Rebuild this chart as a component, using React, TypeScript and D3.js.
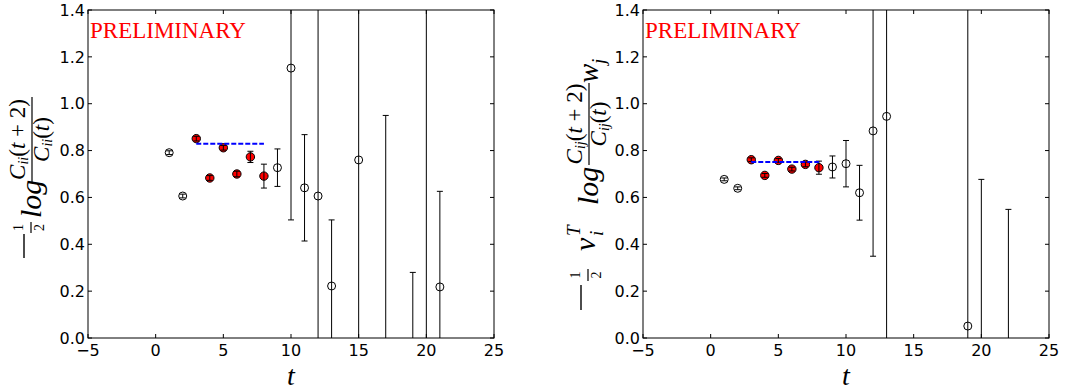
import React from 'react';
import * as d3 from 'd3';

// axis ticks
const xTicks = [-5, 0, 5, 10, 15, 20, 25];
const yTicks = [0, 0.2, 0.4, 0.6, 0.8, 1.0, 1.2, 1.4];

// left panel: C_ii effective mass
const leftOpenT = [1, 2, 9, 10, 11, 12, 13, 15, 17, 19, 20, 21];
const leftOpenV = [0.791, 0.606, 0.727, 1.152, 0.641, 0.606, 0.222, 0.76, -0.35, -0.4, 2.0, 0.218];
const leftOpenE = [0.008, 0.008, 0.08, 0.648, 0.227, 0.95, 0.282, 0.9, 1.3, 0.68, 3.0, 0.408];
const leftFitT = [3, 4, 5, 6, 7, 8];
const leftFitV = [0.851, 0.683, 0.812, 0.7, 0.773, 0.691];
const leftFitE = [0.01, 0.01, 0.01, 0.012, 0.024, 0.051];
const leftPlateau = 0.829;

// right panel: projected correlator
const rightOpenT = [1, 2, 9, 10, 11, 12, 13, 19, 20, 22];
const rightOpenV = [0.677, 0.639, 0.73, 0.744, 0.62, 0.884, 0.946, 0.051, -0.3, -0.3];
const rightOpenE = [0.006, 0.006, 0.047, 0.099, 0.117, 0.535, 1.0, 1.5, 0.977, 0.849];
const rightFitT = [3, 4, 5, 6, 7, 8];
const rightFitV = [0.761, 0.694, 0.758, 0.721, 0.741, 0.727];
const rightFitE = [0.008, 0.008, 0.008, 0.008, 0.01, 0.028];
const rightPlateau = 0.751;

const W = 406;
const TOP = 10;
const BOTTOM = 338;
const SANS = 'DejaVu Sans';
const SERIF = 'Liberation Serif';

function ErrBars({ x, y, t, v, e }) {
  return (
    <g stroke="#000" strokeWidth={1}>
      {t.map((ti, i) => {
        const px = x(ti);
        const lo = y(v[i] - e[i]);
        const hi = y(v[i] + e[i]);
        return (
          <g key={i}>
            <line x1={px} x2={px} y1={lo} y2={hi} />
            <line x1={px - 3} x2={px + 3} y1={lo} y2={lo} />
            <line x1={px - 3} x2={px + 3} y1={hi} y2={hi} />
          </g>
        );
      })}
    </g>
  );
}

function Panel(props) {
  const { id, left, openT, openV, openE, fitT, fitV, fitE, plateau, children } = props;
  const x = d3.scaleLinear().domain([-5, 25]).range([left, left + W]);
  const y = d3.scaleLinear().domain([0, 1.4]).range([BOTTOM, TOP]);
  const fmt = d3.format('.1f');
  const fmtX = d3.format('d');

  return (
    <g>
      <defs>
        <clipPath id={id}>
          <rect x={left} y={TOP} width={W} height={BOTTOM - TOP} />
        </clipPath>
      </defs>
      <g clipPath={`url(#${id})`}>
        {openT.map((ti, i) => (
          <circle key={i} cx={x(ti)} cy={y(openV[i])} r={4} fill="none" stroke="#000" strokeWidth={1} />
        ))}
        <ErrBars x={x} y={y} t={openT} v={openV} e={openE} />
        {fitT.map((ti, i) => (
          <circle key={i} cx={x(ti)} cy={y(fitV[i])} r={4.2} fill="#ff0000" stroke="#000" strokeWidth={1} />
        ))}
        <ErrBars x={x} y={y} t={fitT} v={fitV} e={fitE} />
        <line x1={x(fitT[0])} x2={x(fitT[fitT.length - 1])} y1={y(plateau)} y2={y(plateau)}
          stroke="#0000ff" strokeWidth={2} strokeDasharray="5,2" />
      </g>

      <rect x={left} y={TOP} width={W} height={BOTTOM - TOP} fill="none" stroke="#000" strokeWidth={1} />
      <g stroke="#000" strokeWidth={1}>
        {xTicks.map((d) => (
          <g key={d}>
            <line x1={x(d)} x2={x(d)} y1={BOTTOM} y2={BOTTOM - 4} />
            <line x1={x(d)} x2={x(d)} y1={TOP} y2={TOP + 4} />
          </g>
        ))}
        {yTicks.map((d) => (
          <g key={d}>
            <line x1={left} x2={left + 4} y1={y(d)} y2={y(d)} />
            <line x1={left + W} x2={left + W - 4} y1={y(d)} y2={y(d)} />
          </g>
        ))}
      </g>
      <g fontFamily={SANS} fontSize={16} fill="#000">
        {xTicks.map((d) => (
          <text key={d} x={x(d)} y={356} textAnchor="middle">{fmtX(d)}</text>
        ))}
        {yTicks.map((d) => (
          <text key={d} x={left - 3} y={y(d)} dy="0.36em" textAnchor="end">{fmt(d)}</text>
        ))}
      </g>
      <text x={x(10)} y={385} fontFamily={SERIF} fontStyle="italic" fontSize={28} textAnchor="middle">t</text>
      <text x={left + 2} y={38} fontFamily={SERIF} fontSize={23} fill="#ff0000">PRELIMINARY</text>
      {children}
    </g>
  );
}

// rotated label: local x = -yOrig, local y = xOrig
function Frac({ cx, bar, num, den, len, sub }) {
  return (
    <g>
      <line x1={cx - len / 2} x2={cx + len / 2} y1={bar} y2={bar} stroke="#000" strokeWidth={1.2} />
      <text x={cx} y={num} fontSize={23} textAnchor="middle">
        <tspan fontStyle="italic">C</tspan>
        <tspan fontStyle="italic" fontSize={14} dy={3}>{sub}</tspan>
        <tspan dy={-3}>(</tspan>
        <tspan fontStyle="italic">t</tspan>
        <tspan> + 2)</tspan>
      </text>
      <text x={cx} y={den} fontSize={23} textAnchor="middle">
        <tspan fontStyle="italic">C</tspan>
        <tspan fontStyle="italic" fontSize={14} dy={3}>{sub}</tspan>
        <tspan dy={-3}>(</tspan>
        <tspan fontStyle="italic">t</tspan>
        <tspan>)</tspan>
      </text>
    </g>
  );
}

function LeftLabel() {
  return (
    <g transform="rotate(-90)" fontFamily={SERIF} fill="#000">
      <line x1={-258} x2={-234} y1={24} y2={24} stroke="#000" strokeWidth={1.4} />
      <text x={-227.5} y={23} fontSize={14} textAnchor="middle">1</text>
      <line x1={-233} x2={-222} y1={31} y2={31} stroke="#000" strokeWidth={1.2} />
      <text x={-227.5} y={44} fontSize={14} textAnchor="middle">2</text>
      <text x={-218} y={41} fontSize={30} fontStyle="italic">log</text>
      <Frac cx={-139.5} bar={32} num={25} den={49} len={85} sub="ii" />
    </g>
  );
}

function RightLabel() {
  return (
    <g transform="rotate(-90)" fontFamily={SERIF} fill="#000">
      <line x1={-310} x2={-285} y1={581} y2={581} stroke="#000" strokeWidth={1.4} />
      <text x={-275} y={580} fontSize={14} textAnchor="middle">1</text>
      <line x1={-281} x2={-269} y1={588} y2={588} stroke="#000" strokeWidth={1.2} />
      <text x={-275} y={601} fontSize={14} textAnchor="middle">2</text>
      <text x={-251} y={595} fontSize={30} fontStyle="italic">v</text>
      <text x={-236} y={580} fontSize={19} fontStyle="italic">T</text>
      <text x={-236} y={603} fontSize={19} fontStyle="italic">i</text>
      <text x={-205} y={598} fontSize={30} fontStyle="italic">log</text>
      <Frac cx={-124} bar={589} num={582} den={606} len={82} sub="ij" />
      <text x={-83} y={598} fontSize={29} fontStyle="italic">w</text>
      <text x={-64} y={605} fontSize={19} fontStyle="italic">j</text>
    </g>
  );
}

export default function App() {
  return (
    <div style={{ position: 'absolute', left: 0, top: 0 }}>
      <svg width={1065} height={390} style={{ display: 'block', background: '#fff' }}>
        <Panel id="clipL" left={88} openT={leftOpenT} openV={leftOpenV} openE={leftOpenE}
          fitT={leftFitT} fitV={leftFitV} fitE={leftFitE} plateau={leftPlateau}>
          <LeftLabel />
        </Panel>
        <Panel id="clipR" left={643} openT={rightOpenT} openV={rightOpenV} openE={rightOpenE}
          fitT={rightFitT} fitV={rightFitV} fitE={rightFitE} plateau={rightPlateau}>
          <RightLabel />
        </Panel>
      </svg>
    </div>
  );
}
